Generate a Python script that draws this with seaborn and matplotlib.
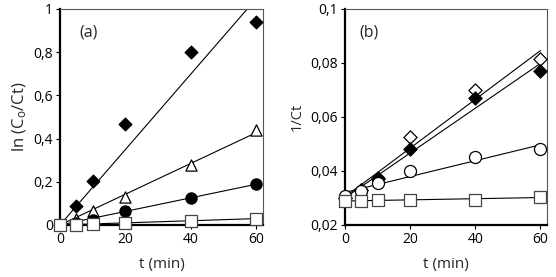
import numpy as np
import pandas as pd
import matplotlib
matplotlib.use("Agg")
import matplotlib.pyplot as plt
import seaborn as sns

t = [0, 5, 10, 20, 40, 60]

# panel (a): ln(Co/Ct)
a_diamond = [0, 0.086, 0.205, 0.468, 0.80, 0.938]
a_triangle = [0, 0.030, 0.063, 0.130, 0.280, 0.438]
a_circle = [0, 0.008, 0.025, 0.063, 0.127, 0.190]
a_square = [0, 0.000, 0.003, 0.010, 0.020, 0.030]

# panel (b): 1/Ct
b_diamond_open = [0.0300, 0.0330, 0.0375, 0.0525, 0.0699, 0.0815]
b_diamond_fill = [0.0300, 0.0330, 0.0370, 0.0483, 0.0669, 0.0772]
b_circle = [0.0306, 0.0327, 0.0356, 0.0399, 0.0452, 0.0481]
b_square = [0.0290, 0.0290, 0.0291, 0.0293, 0.0294, 0.0304]

a_yticks = [0, 0.2, 0.4, 0.6, 0.8, 1.0]
a_ylabels = ["0", "0,2", "0,4", "0,6", "0,8", "1"]
b_yticks = [0.02, 0.04, 0.06, 0.08, 0.1]
b_ylabels = ["0,02", "0,04", "0,06", "0,08", "0,1"]
xticks = [0, 20, 40, 60]

sns.set_theme(style="ticks")
plt.rcParams["font.family"] = ["Open Sans", "DejaVu Sans"]
plt.rcParams["mathtext.default"] = "regular"

fig = plt.figure(figsize=(5.56, 2.77), dpi=100)
ax1 = fig.add_axes([60 / 556, 1 - 225 / 277, 203 / 556, 216 / 277])
ax2 = fig.add_axes([345 / 556, 1 - 225 / 277, 202 / 556, 216 / 277])

tt = np.array(t, dtype=float)


def through_origin(y):
    y = np.array(y)
    return (tt * y).sum() / (tt * tt).sum() * tt


def linfit(y):
    k, b = np.polyfit(tt, y, 1)
    return k * tt + b


series_a = [
    (a_diamond, "D", "black", "black", 42),
    (a_triangle, "^", "white", "black", 65),
    (a_circle, "o", "black", "black", 65),
    (a_square, "s", "white", "#444444", 65),
]
series_b = [
    (b_diamond_open, "D", "white", "black", 45),
    (b_diamond_fill, "D", "black", "black", 45),
    (b_circle, "o", "white", "black", 75),
    (b_square, "s", "white", "#444444", 85),
]

for y, m, fc, ec, s in series_a:
    sns.lineplot(x=t, y=through_origin(y), ax=ax1, color="black", lw=0.8, zorder=2)
    sns.scatterplot(x=t, y=y, ax=ax1, marker=m, s=s, facecolor=fc,
                    edgecolor=ec, linewidth=0.9, zorder=3, clip_on=False)

for y, m, fc, ec, s in series_b:
    sns.lineplot(x=t, y=linfit(y), ax=ax2, color="black", lw=0.8, zorder=2)
    sns.scatterplot(x=t, y=y, ax=ax2, marker=m, s=s, facecolor=fc,
                    edgecolor=ec, linewidth=0.9, zorder=3, clip_on=False)

ax1.set_xlim(0, 62)
ax1.set_ylim(0, 1)
ax1.set_yticks(a_yticks)
ax1.set_yticklabels(a_ylabels)
ax1.set_ylabel("ln (C$_o$/Ct)", fontsize=12, labelpad=3)
ax1.text(5.8, 0.89, "(a)", fontsize=11.5, va="center")

ax2.set_xlim(0, 62)
ax2.set_ylim(0.02, 0.1)
ax2.set_yticks(b_yticks)
ax2.set_yticklabels(b_ylabels)
ax2.set_ylabel("1/Ct", fontsize=10.5, labelpad=4)
ax2.text(4.3, 0.0912, "(b)", fontsize=11.5, va="center")

for ax in (ax1, ax2):
    ax.set_xticks(xticks)
    ax.set_xlabel("t (min)", fontsize=11, labelpad=7)
    ax.tick_params(labelsize=10, length=3, width=0.8, pad=2, colors="black")
    for side in ("left", "bottom"):
        ax.spines[side].set_linewidth(1.6)
        ax.spines[side].set_color("black")
    for side in ("top", "right"):
        ax.spines[side].set_linewidth(0.8)
        ax.spines[side].set_color("#555555")

fig.savefig("out.png", dpi=100)
